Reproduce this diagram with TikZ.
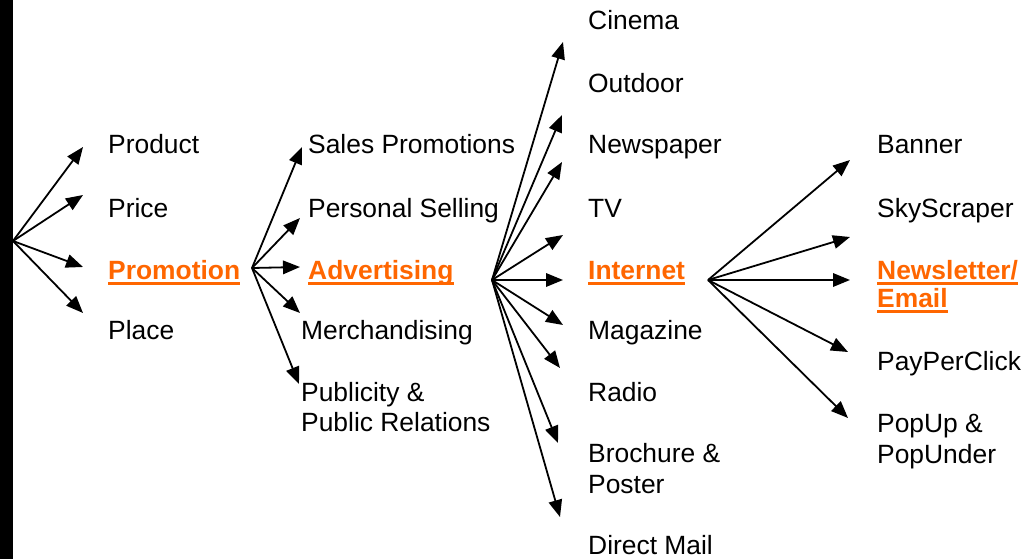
\documentclass[tikz,border=0pt]{standalone}
\usepackage{fontspec}
\setmainfont{Liberation Sans}
\usetikzlibrary{arrows.meta,calc}
\definecolor{hot}{HTML}{FF6600}
\begin{document}
\begin{tikzpicture}[x=1pt,y=-1pt,
  lbl/.style={anchor=base west, inner sep=0pt, font=\fontsize{26.4}{30}\selectfont},
  hl/.style={lbl, text=hot, font=\fontsize{26.4}{30}\selectfont\bfseries},
  arr/.style={line width=1.8pt, -{Triangle[length=17pt,width=13.5pt]}},
  ul/.style={draw=hot, line width=2.5pt}]
\useasboundingbox (0,0) rectangle (1031,559);
\fill[black] (0,0) rectangle (13,559);

% column 1
\node[lbl] (product) at (108,153.5) {Product};
\node[lbl] (price) at (108,217.5) {Price};
\node[hl] (promotion) at (108,279) {Promotion};
\node[lbl] (place) at (108,339.5) {Place};

% column 2
\node[lbl] (sales) at (308,153.5) {Sales Promotions};
\node[lbl] (personal) at (308,217.5) {Personal Selling};
\node[hl] (advertising) at (308,279) {Advertising};
\node[lbl] (merch) at (301,339.5) {Merchandising};
\node[lbl] (publicity) at (301,401) {Publicity \&};
\node[lbl] (publicrel) at (301,431) {Public Relations};

% column 3
\node[lbl] (cinema) at (588,29.5) {Cinema};
\node[lbl] (outdoor) at (588,92.5) {Outdoor};
\node[lbl] (newspaper) at (588,153.5) {Newspaper};
\node[lbl] (tv) at (588,217.5) {TV};
\node[hl] (internet) at (588,279) {Internet};
\node[lbl] (magazine) at (588,339.5) {Magazine};
\node[lbl] (radio) at (588,401) {Radio};
\node[lbl] (brochure) at (588,462.5) {Brochure \&};
\node[lbl] (poster) at (588,493) {Poster};
\node[lbl] (directmail) at (588,554.5) {Direct Mail};

% column 4
\node[lbl] (banner) at (877,153.5) {Banner};
\node[lbl] (skyscraper) at (877,217.5) {SkyScraper};
\node[hl] (newsletter) at (877,279) {Newsletter/};
\node[hl] (email) at (877,307) {Email};
\node[lbl] (ppc) at (877,370.5) {PayPerClick};
\node[lbl] (popup) at (877,432.5) {PopUp \&};
\node[lbl] (popunder) at (877,463) {PopUnder};

% underlines
\foreach \n in {promotion,advertising,internet,newsletter,email}
  \draw[ul] ($(\n.base west)+(0,4.5)$) -- ($(\n.base east)+(0,4.5)$);

% fan origins
\coordinate (o1) at (13,241);
\coordinate (o2) at (252,268);
\coordinate (o3) at (492,280);
\coordinate (o4) at (708,280);

% fan 1 tips
\coordinate (a1) at (83,147);
\coordinate (a2) at (83,195);
\coordinate (a3) at (83,267);
\coordinate (a4) at (83,313);
% fan 2 tips
\coordinate (b1) at (302,147);
\coordinate (b2) at (300,218);
\coordinate (b3) at (300,267);
\coordinate (b4) at (300,313);
\coordinate (b5) at (299,384);
% fan 3 tips
\coordinate (c1) at (563,42);
\coordinate (c2) at (562,115);
\coordinate (c3) at (562,162);
\coordinate (c4) at (563,235);
\coordinate (c5) at (563,280);
\coordinate (c6) at (563,325);
\coordinate (c7) at (560,368);
\coordinate (c8) at (558,443);
\coordinate (c9) at (560,517);
% fan 4 tips
\coordinate (d1) at (850,160);
\coordinate (d2) at (850,237);
\coordinate (d3) at (850,280);
\coordinate (d4) at (848,352);
\coordinate (d5) at (848,418);

\foreach \t in {a1,a2,a3,a4} \draw[arr] (o1) -- (\t);
\foreach \t in {b1,b2,b3,b4,b5} \draw[arr] (o2) -- (\t);
\foreach \t in {c1,c2,c3,c4,c5,c6,c7,c8,c9} \draw[arr] (o3) -- (\t);
\foreach \t in {d1,d2,d3,d4,d5} \draw[arr] (o4) -- (\t);
\end{tikzpicture}
\end{document}
